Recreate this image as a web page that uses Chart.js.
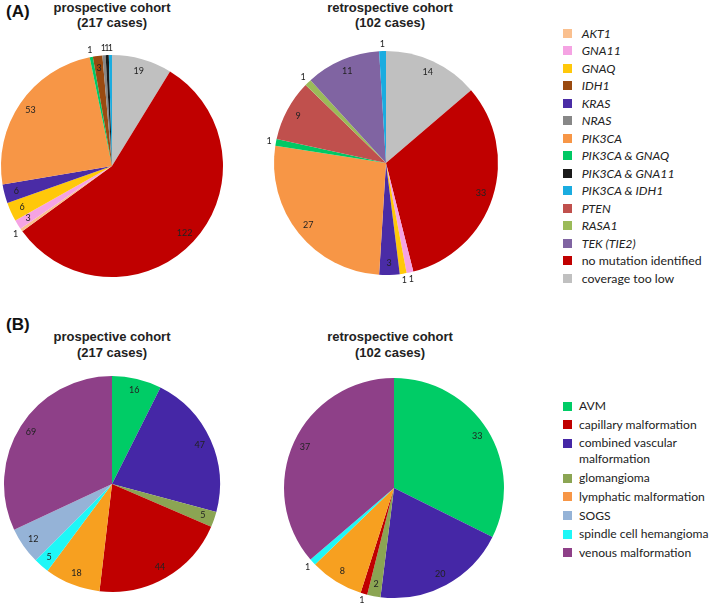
<!DOCTYPE html>
<html>
<head>
<meta charset="utf-8">
<script src="https://cdn.jsdelivr.net/npm/chart.js@4.4.1/dist/chart.umd.min.js"></script>
<style>
  html, body { margin: 0; padding: 0; background: #fff; overflow: hidden; }
  #page { position: relative; width: 709px; height: 608px; font-family: "Liberation Sans", Arial, sans-serif; }
  .panel { position: absolute; font-weight: bold; font-size: 17px; color: #111; }
  .title { position: absolute; width: 200px; text-align: center; font-weight: bold; font-size: 13px; line-height: 15px; color: #222; }
  .pie { position: absolute; }
  .leg { position: absolute; font-family: Lato, "Open Sans", sans-serif; color: #222; white-space: nowrap; }
  .leg span.sw { position: absolute; left: 0; width: 9px; height: 9px; }
  .leg span.tx { position: absolute; }
</style>
</head>
<body>
<div id="page">
  <div class="panel" style="left:6px; top:2px;">(A)</div>
  <div class="title" style="left:12px; top:0px;">prospective cohort<br>(217 cases)</div>
  <div class="title" style="left:290px; top:0px;">retrospective cohort<br>(102 cases)</div>
  <div class="panel" style="left:6px; top:315px;">(B)</div>
  <div class="title" style="left:12px; top:329px; line-height:16px;">prospective cohort<br>(217 cases)</div>
  <div class="title" style="left:290px; top:329px; line-height:16px;">retrospective cohort<br>(102 cases)</div>

  <canvas id="pieA1" class="pie"></canvas>
  <canvas id="pieA2" class="pie"></canvas>
  <canvas id="pieB1" class="pie"></canvas>
  <canvas id="pieB2" class="pie"></canvas>

  <div id="legendA"></div>
  <div id="legendB"></div>
</div>

<script>
// Panel A - mutations, slice order clockwise from 12 o'clock
const mutationLabels = ['coverage too low', 'no mutation identified', 'AKT1', 'GNA11', 'GNAQ', 'KRAS', 'PIK3CA',
  'PIK3CA & GNAQ', 'IDH1', 'PTEN', 'RASA1', 'TEK (TIE2)', 'NRAS', 'PIK3CA & GNA11', 'PIK3CA & IDH1'];
const mutationProspective = [19, 122, 1, 3, 6, 6, 53, 1, 3, 0, 0, 0, 1, 1, 1];
const mutationRetrospective = [14, 33, 0, 1, 1, 3, 27, 1, 0, 9, 1, 11, 0, 0, 1];
const mutationLegend = ['AKT1', 'GNA11', 'GNAQ', 'IDH1', 'KRAS', 'NRAS', 'PIK3CA', 'PIK3CA & GNAQ',
  'PIK3CA & GNA11', 'PIK3CA & IDH1', 'PTEN', 'RASA1', 'TEK (TIE2)', 'no mutation identified', 'coverage too low'];

// Panel B - diagnoses
const diagnosisLabels = ['AVM', 'combined vascular malformation', 'glomangioma', 'capillary malformation',
  'lymphatic malformation', 'spindle cell hemangioma', 'SOGS', 'venous malformation'];
const diagnosisProspective = [16, 47, 5, 44, 18, 5, 12, 69];
const diagnosisRetrospective = [33, 20, 2, 1, 8, 1, 0, 37];
const diagnosisLegend = ['AVM', 'capillary malformation', 'combined vascular malformation', 'glomangioma',
  'lymphatic malformation', 'SOGS', 'spindle cell hemangioma', 'venous malformation'];

const colors = {
  'AKT1': '#FAC08F',
  'GNA11': '#F5A3E3',
  'GNAQ': '#FFC80A',
  'IDH1': '#9A4A10',
  'KRAS': '#4A2CA6',
  'NRAS': '#878787',
  'PIK3CA': '#F79646',
  'PIK3CA & GNAQ': '#00C864',
  'PIK3CA & GNA11': '#1A1A1A',
  'PIK3CA & IDH1': '#1AACE0',
  'PTEN': '#C0504D',
  'RASA1': '#9BBB59',
  'TEK (TIE2)': '#8064A2',
  'no mutation identified': '#C00000',
  'coverage too low': '#C0C0C0',
  'AVM': '#00CC66',
  'capillary malformation': '#C00000',
  'combined vascular malformation': '#4527A6',
  'glomangioma': '#8BA553',
  'lymphatic malformation': '#F7A020',
  'SOGS': '#95B3D7',
  'spindle cell hemangioma': '#1EF7F7',
  'venous malformation': '#8E4088'
};
const legendColors = Object.assign({}, colors, { 'lymphatic malformation': '#F79646' });

// Numbers on the slices: inside near the rim, outside for tiny slices
const sliceLabels = {
  id: 'sliceLabels',
  afterDatasetsDraw(chart) {
    const ctx = chart.ctx;
    const values = chart.data.datasets[0].data;
    const total = values.reduce((acc, v) => acc + v, 0);
    ctx.save();
    ctx.font = '9px Lato, sans-serif';
    ctx.fillStyle = '#222';
    ctx.textAlign = 'center';
    ctx.textBaseline = 'middle';
    chart.getDatasetMeta(0).data.forEach((arc, i) => {
      const v = values[i];
      if (!v) return;
      const p = arc.getProps(['x', 'y', 'startAngle', 'endAngle', 'outerRadius'], true);
      const mid = (p.startAngle + p.endAngle) / 2;
      const r = v / total < 0.012 ? p.outerRadius + 7 : p.outerRadius * 0.89;
      ctx.fillText(String(v), p.x + Math.cos(mid) * r, p.y + Math.sin(mid) * r);
    });
    ctx.restore();
  }
};

function makePie(id, labels, values, cx, cy, radius) {
  const pad = 14;
  const size = 2 * (radius + pad);
  const canvas = document.getElementById(id);
  canvas.width = size;
  canvas.height = size;
  canvas.style.left = (cx - radius - pad) + 'px';
  canvas.style.top = (cy - radius - pad) + 'px';
  return new Chart(canvas, {
    type: 'pie',
    data: {
      labels: labels,
      datasets: [{
        data: values,
        backgroundColor: labels.map(l => colors[l]),
        borderWidth: 0
      }]
    },
    options: {
      responsive: false,
      animation: false,
      layout: { padding: pad },
      plugins: { legend: { display: false }, tooltip: { enabled: false } }
    },
    plugins: [sliceLabels]
  });
}

makePie('pieA1', mutationLabels, mutationProspective, 111.7, 165.5, 111);
makePie('pieA2', mutationLabels, mutationRetrospective, 385.7, 162.8, 112);
makePie('pieB1', diagnosisLabels, diagnosisProspective, 111.7, 484, 108);
makePie('pieB2', diagnosisLabels, diagnosisRetrospective, 394, 487.8, 110);

// Legends
function buildLegend(containerId, items, opts) {
  const box = document.getElementById(containerId);
  let y = opts.top;
  items.forEach(name => {
    const item = document.createElement('div');
    item.className = 'leg';
    item.style.left = opts.left + 'px';
    item.style.top = y + 'px';
    item.style.fontSize = opts.fontSize + 'px';
    item.style.lineHeight = opts.lineHeight + 'px';
    const italic = opts.italic && opts.italic(name);
    let text = name;
    let lines = 1;
    if (opts.wrap && opts.wrap[name]) {
      text = opts.wrap[name];
      lines = 2;
    }
    item.innerHTML = `<span class="sw" style="top:${(opts.lineHeight - 9) / 2}px;background:${legendColors[name]}"></span>` +
      `<span class="tx" style="left:${opts.textOffset}px;font-style:${italic ? 'italic' : 'normal'}">${text}</span>`;
    box.appendChild(item);
    y += opts.step + (lines - 1) * opts.lineHeight;
  });
}

buildLegend('legendA', mutationLegend, {
  left: 563, top: 33.3 - 8.5, step: 17.5, lineHeight: 17, fontSize: 12.3, textOffset: 18.7,
  italic: name => name !== 'no mutation identified' && name !== 'coverage too low'
});

buildLegend('legendB', diagnosisLegend, {
  left: 563, top: 406 - 8, step: 18.7, lineHeight: 16, fontSize: 12.1, textOffset: 16,
  wrap: { 'combined vascular malformation': 'combined vascular<br>malformation' }
});
</script>
</body>
</html>
